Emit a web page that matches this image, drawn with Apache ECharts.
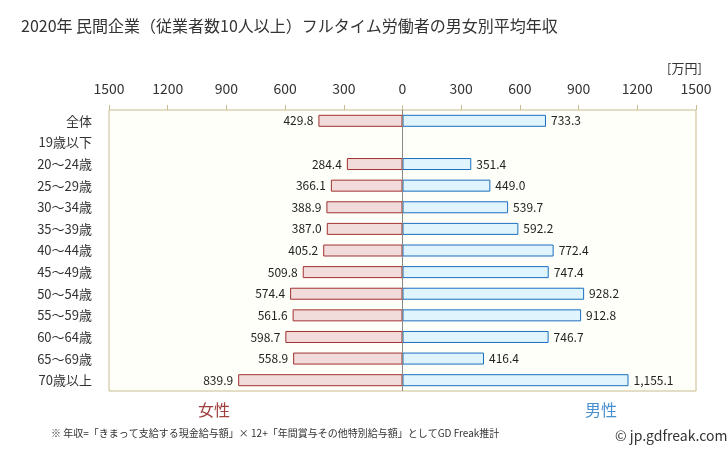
<!DOCTYPE html>
<html><head><meta charset="utf-8">
<script src="https://cdn.jsdelivr.net/npm/echarts@6/dist/echarts.min.js"></script>
<style>html,body{margin:0;padding:0;background:#fff}#c{width:728px;height:451px}</style>
</head><body><div id="c"></div>
<script>
const categories = ['全体','19歳以下','20〜24歳','25〜29歳','30〜34歳','35〜39歳','40〜44歳','45〜49歳','50〜54歳','55〜59歳','60〜64歳','65〜69歳','70歳以上'];
const female = [429.8, null, 284.4, 366.1, 388.9, 387.0, 405.2, 509.8, 574.4, 561.6, 598.7, 558.9, 839.9];
const male = [733.3, null, 351.4, 449.0, 539.7, 592.2, 772.4, 747.4, 928.2, 912.8, 746.7, 416.4, 1155.1];
const tickLabels = ['1500','1200','900','600','300','0','300','600','900','1200','1500'];

const font = '"Noto Sans CJK JP", "Noto Sans", sans-serif';
const fmt = v => Math.abs(v).toLocaleString('en-US',{minimumFractionDigits:1,maximumFractionDigits:1});
const chart = echarts.init(document.getElementById('c'));
chart.setOption({
  animation:false,
  textStyle:{fontFamily:font},
  title:[
    {text:'2020年 民間企業（従業者数10人以上）フルタイム労働者の男女別平均年収',left:16,top:13,textStyle:{fontSize:16,fontWeight:'normal',color:'#333',fontFamily:font}},
    {text:'[万円]',left:662,top:57,textStyle:{fontSize:13,fontWeight:'normal',color:'#333',fontFamily:font}},
    {text:'女性',left:193,top:397,textStyle:{fontSize:16,fontWeight:'normal',color:'#a0403f',fontFamily:font}},
    {text:'男性',left:580,top:397,textStyle:{fontSize:16,fontWeight:'normal',color:'#4a90d0',fontFamily:font}},
    {text:'※ 年収=「きまって支給する現金給与額」× 12+「年間賞与その他特別給与額」としてGD Freak推計',left:46,top:423,textStyle:{fontSize:10,fontWeight:'normal',color:'#333',fontFamily:font}},
    {text:'© jp.gdfreak.com',left:610,top:424,textStyle:{fontSize:14,fontWeight:'normal',color:'#333',fontFamily:font}}
  ],
  grid:{left:109,right:32,top:110,bottom:60,show:true,borderColor:'#c8bc90',borderWidth:1,backgroundColor:'#fffffa'},
  xAxis:{type:'value',position:'top',min:-1500,max:1500,interval:300,
    axisLine:{show:false},
    axisTick:{show:true,length:5,lineStyle:{color:'#c8bc90'}},
    splitLine:{show:false},
    axisLabel:{margin:14,fontSize:14,color:'#333',fontFamily:font,
      formatter:(v)=>{const i=Math.round((v+1500)/300);return tickLabels[i];}}
  },
  yAxis:{type:'category',data:categories,inverse:true,
    axisLine:{show:false},axisTick:{show:false},
    axisLabel:{fontSize:13,color:'#333',margin:17,fontFamily:font}
  },
  series:[
    {name:'女性',type:'bar',data:female.map(v=>v==null?null:-v),barWidth:12,barGap:'-100%',
      itemStyle:{color:'#f2dcdb',borderColor:'#a03030',borderWidth:1},
      label:{show:true,position:'left',distance:5,fontSize:12,color:'#222',fontFamily:font,formatter:p=>fmt(p.value)},
      markLine:{silent:true,symbol:'none',label:{show:false},lineStyle:{color:'#888',type:'solid',width:1},data:[{xAxis:0}]}
    },
    {name:'男性',type:'bar',data:male,barWidth:12,
      itemStyle:{color:'#dff4fc',borderColor:'#1a6fbf',borderWidth:1},
      label:{show:true,position:'right',distance:5,fontSize:12,color:'#222',fontFamily:font,formatter:p=>fmt(p.value)}
    }
  ]
});
</script></body></html>
